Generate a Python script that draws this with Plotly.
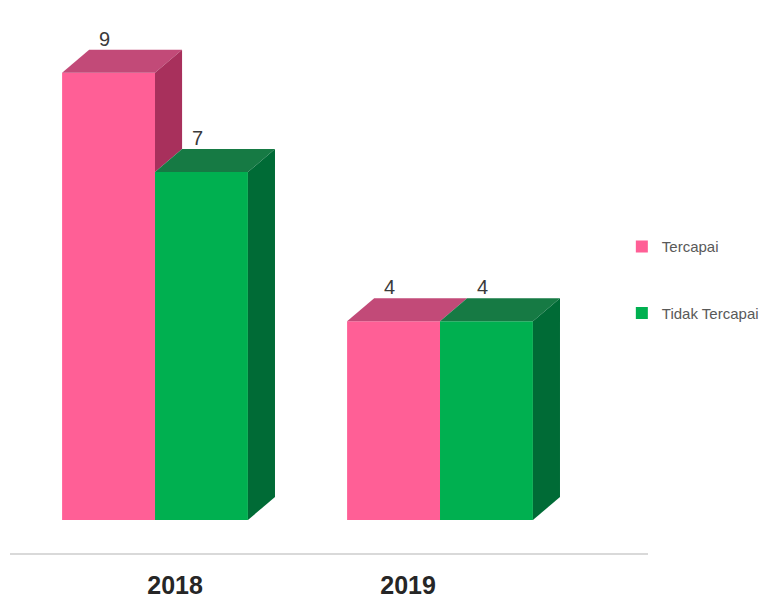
import plotly.graph_objects as go

# ---- data ----
years = ["2018", "2019"]
series_names = ["Tercapai", "Tidak Tercapai"]
tercapai = [9, 4]
tidak_tercapai = [7, 4]

# ---- styling ----
front_colors = ["#FF5F96", "#00B050"]
top_colors = ["#C24A78", "#167A44"]
side_colors = ["#A8305C", "#006B36"]

BAR_W = 0.326          # width of one bar in category units
DEPTH_X = 0.095        # 3-D depth offset along x (category units)
DEPTH_Y = 0.463        # 3-D depth offset along y (value units)
X_RANGE = [-0.5088, 1.7298]
Y_RANGE = [-0.664, 10.463]

# front floor edge: category labels sit on a slightly compressed scale
VANISH_X = 0.386
LABEL_SCALE = 0.8175

series_values = [tercapai, tidak_tercapai]
offsets = [-BAR_W, 0.0]
idx = list(range(len(years)))

fig = go.Figure()

# front faces
for s, (name, vals) in enumerate(zip(series_names, series_values)):
    fig.add_trace(go.Bar(
        x=idx, y=vals, width=BAR_W, offset=offsets[s],
        name=name, marker=dict(color=front_colors[s], line=dict(width=0)),
        legendgroup=name, hoverinfo="skip",
    ))


def poly(xs, ys, color):
    fig.add_trace(go.Scatter(
        x=xs + [xs[0]], y=ys + [ys[0]], mode="lines", fill="toself",
        fillcolor=color, line=dict(width=0, color=color),
        showlegend=False, hoverinfo="skip",
    ))


# top and side faces, painted left to right
for i in idx:
    for s, vals in enumerate(series_values):
        v = vals[i]
        left = i + offsets[s]
        right = left + BAR_W
        # top face
        poly([left, right, right + DEPTH_X, left + DEPTH_X],
             [v, v, v + DEPTH_Y, v + DEPTH_Y], top_colors[s])
        # side face, hidden behind the neighbouring bar where it is taller
        if s + 1 < len(series_values):
            floor_v = series_values[s + 1][i]
            if floor_v < v:
                poly([right, right, right + DEPTH_X, right + DEPTH_X],
                     [floor_v, v, v + DEPTH_Y, floor_v + DEPTH_Y], side_colors[s])
        else:
            poly([right, right, right + DEPTH_X, right + DEPTH_X],
                 [0, v, v + DEPTH_Y, DEPTH_Y], side_colors[s])

# value labels above each bar
for s, vals in enumerate(series_values):
    for i, v in zip(idx, vals):
        fig.add_annotation(
            x=i + offsets[s] + BAR_W / 2, y=v + DEPTH_Y, text=str(v),
            showarrow=False, yanchor="bottom", xshift=-4, yshift=-2,
            font=dict(size=20, color="#3A3A3A", family="Liberation Sans"),
        )

label_pos = [VANISH_X + LABEL_SCALE * (i - VANISH_X) for i in idx]

fig.update_layout(
    template="none",
    width=766, height=602,
    margin=dict(l=10, r=118, t=0, b=49),
    paper_bgcolor="white", plot_bgcolor="white",
    barmode="overlay",
    xaxis=dict(
        range=X_RANGE, showgrid=False, zeroline=False,
        showline=True, linecolor="#D9D9D9", linewidth=2,
        tickmode="array", tickvals=label_pos, ticktext=years,
        ticks="", ticklabelstandoff=9, automargin=False,
        tickfont=dict(size=25, color="#262626", family="Liberation Sans", weight="bold"),
        fixedrange=True,
    ),
    yaxis=dict(range=Y_RANGE, visible=False, automargin=False, fixedrange=True),
    legend=dict(
        x=0.959, xanchor="left", y=0.494, yanchor="middle",
        traceorder="grouped", tracegroupgap=44,
        font=dict(size=15, color="#595959", family="Liberation Sans"),
        bgcolor="rgba(0,0,0,0)",
    ),
    font=dict(family="Liberation Sans"),
)

fig.write_html("out.html")
